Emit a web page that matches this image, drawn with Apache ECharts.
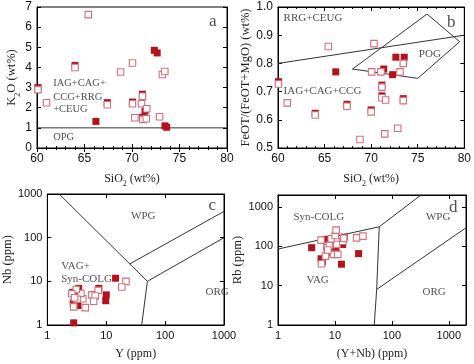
<!DOCTYPE html>
<html><head><meta charset="utf-8">
<script src="https://cdn.jsdelivr.net/npm/echarts@6/dist/echarts.min.js"></script>
<style>html,body{margin:0;padding:0;background:#fff}#c{width:474px;height:364px}</style>
</head><body><div id="c"></div>
<script>
// ---------- data ----------
const aFilled = [[60.1,3.0],[64.0,4.1],[66.2,1.32],[67.4,2.25],[70.05,2.28],[71.1,2.67],[71.1,1.52],[71.37,1.83],[72.35,4.85],[72.65,4.72],[73.47,1.1],[73.65,1.03]];
const aOpen = [[65.4,6.62],[60.1,2.9],[61.0,2.25],[64.0,4.0],[67.4,2.15],[68.8,3.77],[70.05,4.22],[70.05,2.2],[70.3,1.5],[71.0,2.2],[71.1,2.57],[71.15,1.42],[71.55,1.95],[71.5,1.45],[72.9,1.55],[73.2,3.65],[73.45,3.8]];
const bFilled = [[60.05,0.735],[64.0,0.623],[66.2,0.77],[67.4,0.655],[70.0,0.635],[71.15,0.723],[71.15,0.685],[71.35,0.78],[72.3,0.76],[72.65,0.822],[73.55,0.822],[73.45,0.675]];
const bOpen = [[60.05,0.727],[61.0,0.66],[64.0,0.617],[65.4,0.86],[67.4,0.648],[68.8,0.53],[70.0,0.628],[70.05,0.77],[70.3,0.87],[71.05,0.77],[71.15,0.716],[71.15,0.678],[71.55,0.67],[71.45,0.55],[72.85,0.57],[73.1,0.77],[73.45,0.80],[73.45,0.668]];
const cFilled = [[2.8,1.12],[14.4,11.8],[7.5,6.9],[10.0,4.9],[9.8,3.6],[3.4,6.9],[2.7,5.6],[2.9,4.6],[3.3,4.5],[3.0,3.5],[3.3,2.8],[2.75,3.2],[3.0,5.0]];
const cOpen = [[21.6,10.0],[18.4,7.4],[7.3,6.2],[5.7,4.9],[6.5,4.6],[6.1,3.5],[4.4,2.5],[4.0,4.0],[3.7,5.3],[3.1,6.5],[2.6,5.2],[2.8,2.6],[3.2,3.9],[2.9,4.2]];
const dFilled = [[3.9,92],[5.7,48],[6.0,40],[7.0,150],[8.0,128],[8.6,76],[9.1,68],[10.4,83],[13.0,35],[13.7,111],[14.5,170],[26,65],[5.9,44]];
const dOpen = [[5.7,143],[5.8,36],[6.8,56],[7.2,92],[8.0,105],[8.6,155],[9.4,62],[10.1,188],[10.5,256],[10.8,111],[11.2,62],[13.7,134],[14.2,160],[24,163],[31,181],[7.5,80]];

// discrimination boundaries
const aBound = [[60,1],[80,1]];
const bLine = [[60,0.8],[80,0.9]];
const bPOG = [[68,0.78],[76,0.975],[79.5,0.877],[75,0.747],[68,0.78]];
const cBound1 = [[1.58,1000],[50,10],[1000,100]];
const cBound2 = [[25,25],[1000,400]];
const cBound3 = [[50,10],[40,1]];
const dBound1 = [[1,85],[60,312],[324,2000]];
const dBound2 = [[60,312],[54,8],[49,1]];
const dBound3 = [[54,8],[2000,294]];

// tick labels
const aXTicks = [60,65,70,75,80];
const aYTicks = [0,1,2,3,4,5,6,7];
const bXTicks = [60,65,70,75,80];
const bYTicks = ['0.5','0.6','0.7','0.8','0.9','1.0'];
const cTicks = ['1','10','100','1000'];
const dTicks = ['1','10','100','1000'];

// region labels [x, y, text, align]
const aText = [[61.7,3.23,'IAG+CAG+','left'],[61.7,2.5,'CCG+RRG','left'],[61.7,1.9,'+CEUG','left'],[61.7,0.55,'OPG','left']];
const bText = [[60.6,0.96,'RRG+CEUG','left'],[76.3,0.833,'POG','center'],[60.6,0.70,'IAG+CAG+CCG','left']];
const cText = [[42.6,311,'WPG','center'],[1.72,22.2,'VAG+','left'],[1.72,11.5,'Syn-COLG','left'],[762,5.7,'ORG','center']];
const dText = [[5.2,558,'Syn-COLG','center'],[650,558,'WPG','center'],[4.96,13.5,'VAG','center'],[550,6.8,'ORG','center']];
const letters = [[0,78.5,6.3,'a'],[1,78.6,0.944,'b'],[2,631,537,'c'],[3,1195,957,'d']];

// ---------- styles ----------
const FILL = '#b3121c', OPEN = '#d2707a', LINE = '#333';
const SERIF = 'Liberation Serif', SANS = 'Liberation Sans';

const grids = [
  {left:37, top:7, width:190, height:141},
  {left:278, top:7, width:190, height:141},
  {left:36, top:194, width:188, height:131},
  {left:278, top:195, width:188, height:130}
].map(g => Object.assign({show:true, borderColor:'#000', borderWidth:1, containLabel:false}, g));

const nameRich = {s:{fontSize:8, fontFamily:SERIF, color:'#222', verticalAlign:'bottom', padding:[0,0,-3,0]}};
function axisCommon(fontSize){
  return {
    axisLine:{show:true, lineStyle:{color:'#000', width:1}},
    axisTick:{show:true, inside:true, length:4, lineStyle:{color:'#000'}},
    splitLine:{show:false},
    axisLabel:{color:'#111', fontFamily:SANS, fontSize:fontSize, margin:5},
    nameTextStyle:{color:'#222', fontFamily:SERIF, fontSize:12, rich:nameRich},
    nameLocation:'middle'
  };
}
function linAxis(grid, ticks, pos, name, gap, fmt, minor, labels, fs){
  const min = Number(ticks[0]), max = Number(ticks[ticks.length-1]);
  const a = Object.assign(axisCommon(fs), {
    gridIndex:grid, type:'value', min:min, max:max,
    interval: Number(ticks[1]) - Number(ticks[0]), position:pos
  });
  if (name) { a.name = name; a.nameGap = gap; }
  if (fmt) a.axisLabel.formatter = fmt;
  if (minor) a.minorTick = {show:true, splitNumber:minor, length:2, lineStyle:{color:'#000'}};
  if (!labels) a.axisLabel = {show:false};
  return a;
}
function logAxis(grid, ticks, max, pos, name, gap, labels, fs){
  const a = Object.assign(axisCommon(fs), {
    gridIndex:grid, type:'log', logBase:10, min:Number(ticks[0]), max:max, position:pos
  });
  a.axisLabel.formatter = v => String(Math.round(v));
  a.axisLabel.showMaxLabel = (max === Number(ticks[ticks.length-1]));
  if (name) { a.name = name; a.nameGap = gap; }
  if (!labels) a.axisLabel = {show:false};
  return a;
}

const xAxes = [
  linAxis(0, aXTicks, 'bottom', 'SiO{s|2} (wt%)', 25, null, 5, true, 12),
  linAxis(1, bXTicks, 'bottom', 'SiO{s|2} (wt%)', 25, null, 5, true, 12),
  logAxis(2, cTicks, 1000, 'bottom', 'Y (ppm)', 23, true, 11),
  logAxis(3, dTicks, 2000, 'bottom', '(Y+Nb) (ppm)', 23, true, 11),
  linAxis(0, aXTicks, 'top', null, 0, null, 5, false, 12),
  linAxis(1, bXTicks, 'top', null, 0, null, 5, false, 12),
  logAxis(2, cTicks, 1000, 'top', null, 0, false, 11),
  logAxis(3, dTicks, 2000, 'top', null, 0, false, 11)
];
const yAxes = [
  linAxis(0, aYTicks, 'left', 'K{s|2}O (wt%)', 18, null, 0, true, 12),
  linAxis(1, bYTicks, 'left', 'FeOT/(FeOT+MgO) (wt%)', 26, v => v.toFixed(1), 0, true, 12),
  logAxis(2, cTicks, 1000, 'left', 'Nb (ppm)', 22, true, 11),
  logAxis(3, dTicks, 2000, 'left', 'Rb (ppm)', 25, true, 11),
  linAxis(0, aYTicks, 'right', null, 0, null, 0, false, 12),
  linAxis(1, bYTicks, 'right', null, 0, null, 0, false, 12),
  logAxis(2, cTicks, 1000, 'right', null, 0, false, 11),
  logAxis(3, dTicks, 2000, 'right', null, 0, false, 11)
];
yAxes.slice(0,4).forEach(a => { a.nameTextStyle.fontSize = 12.5; });

const series = [];
function bound(i, data){
  series.push({type:'line', xAxisIndex:i, yAxisIndex:i, data:data, symbol:'none', clip:true,
    lineStyle:{color:LINE, width:1}, silent:true, z:1});
}
function pts(i, filled, open){
  series.push({type:'scatter', xAxisIndex:i, yAxisIndex:i, data:filled, symbol:'rect', symbolSize:7,
    itemStyle:{color:FILL, opacity:1}, z:3});
  series.push({type:'scatter', xAxisIndex:i, yAxisIndex:i, data:open, symbol:'rect', symbolSize:6.5,
    itemStyle:{color:'#fff', borderColor:OPEN, borderWidth:1.1, opacity:1}, z:4});
}
function texts(i, arr, size){
  series.push({type:'scatter', xAxisIndex:i, yAxisIndex:i, symbolSize:0, silent:true, z:5,
    data: arr.map(t => ({value:[t[0], t[1]], name:t[2], label:{align:t[3]}})),
    label:{show:true, position:'inside', formatter:p => p.name, color:'#222',
      fontFamily:SERIF, fontSize:size}});
}
bound(0, aBound);
bound(1, bLine); bound(1, bPOG);
bound(2, cBound1); bound(2, cBound2); bound(2, cBound3);
bound(3, dBound1); bound(3, dBound2); bound(3, dBound3);
pts(0, aFilled, aOpen); pts(1, bFilled, bOpen); pts(2, cFilled, cOpen); pts(3, dFilled, dOpen);
texts(0, aText, 10.5); texts(1, bText, 11); texts(2, cText, 11); texts(3, dText, 11);
letters.forEach(l => texts(l[0], [[l[1], l[2], l[3], 'center']], 17));

const chart = echarts.init(document.getElementById('c'), null, {renderer:'canvas'});
chart.setOption({animation:false, backgroundColor:'#fff', grid:grids, xAxis:xAxes, yAxis:yAxes, series:series});
</script></body></html>
